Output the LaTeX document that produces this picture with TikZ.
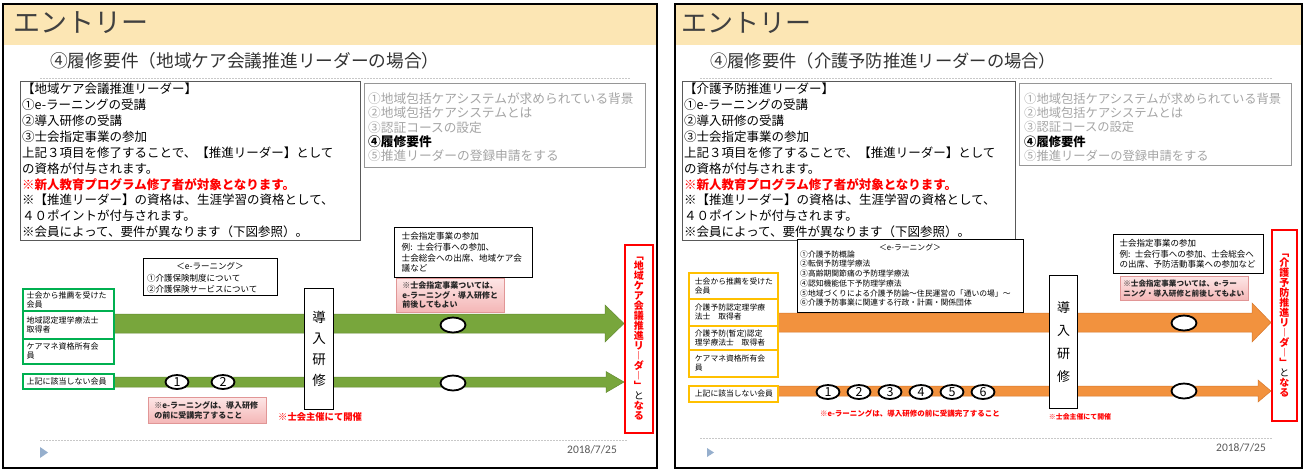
\documentclass[tikz,border=0pt]{standalone}
\usepackage{fontspec}
\setmainfont{Noto Sans CJK JP}
\newfontfamily\datefont{Carlito}
\usetikzlibrary{shapes.geometric,calc}
\definecolor{hdr}{RGB}{252,230,180}
\definecolor{ttl}{RGB}{64,64,64}
\definecolor{grtx}{RGB}{165,165,165}
\definecolor{grbd}{RGB}{150,150,150}
\definecolor{barG}{RGB}{120,166,60}
\definecolor{barGd}{RGB}{100,140,50}
\definecolor{barO}{RGB}{242,146,62}
\definecolor{barOd}{RGB}{215,120,45}
\definecolor{cellG}{RGB}{0,176,80}
\definecolor{cellY}{RGB}{255,192,0}
\definecolor{pkT}{RGB}{253,230,230}
\definecolor{pkB}{RGB}{244,182,182}
\definecolor{pkD}{RGB}{225,150,150}
\definecolor{redT}{RGB}{255,0,0}
\definecolor{dateC}{RGB}{90,90,90}
\definecolor{triC}{RGB}{150,175,205}
\definecolor{dotC}{RGB}{200,200,200}
\newcommand\fsz[2]{\fontsize{#1}{#2}\selectfont\lineskiplimit=-100pt\lineskip=0pt\relax}
\newcommand\blockarrow[6]{%
  \filldraw[#1] let \p1=(#2), \p2=(#3) in
    (\x1,\y1+#4) -- (\x2-#6,\y1+#4) -- (\x2-#6,\y1+#5) -- (\x2,\y1)
    -- (\x2-#6,\y1-#5) -- (\x2-#6,\y1-#4) -- (\x1,\y1-#4) -- cycle;}
\begin{document}
\begin{tikzpicture}[x=1pt,y=-1pt,
  frm/.style={draw=black,line width=1.6pt},
  bk/.style={draw=black,line width=1.3pt,fill=white,inner sep=0pt,anchor=north west},
  tb/.style={draw=black!65,line width=0.9pt,fill=white,inner sep=0pt,anchor=north west},
  gb/.style={draw=grbd,line width=1pt,fill=white,inner sep=0pt,anchor=north west},
  tx/.style={inner sep=0pt,anchor=west,align=left},
  gcell/.style={draw=cellG,line width=1.5pt,fill=white,anchor=north west,align=left,inner xsep=4pt,inner ysep=0pt,font=\fsz{8}{9}},
  ycell/.style={draw=cellY,line width=1.8pt,fill=white,anchor=north west,align=left,inner xsep=6pt,inner ysep=0pt,font=\fsz{7.8}{9}},
  pk/.style={draw=pkD,line width=0.6pt,top color=pkT,bottom color=pkB,anchor=north west,align=left,inner xsep=6pt,inner ysep=0pt,text=black!85},
  rbox/.style={draw=redT,line width=1.6pt,fill=white,anchor=north west,inner sep=0pt,align=center,text=redT},
  ov/.style={ellipse,draw=black,line width=1.8pt,fill=white,inner sep=0pt},
  dotln/.style={draw=dotC,line width=0.8pt,dash pattern=on 1.5pt off 1.5pt},
]
\useasboundingbox (0,0) rectangle (1306,472);
\fill[white] (0,0) rectangle (1306,472);

%================ LEFT SLIDE =================
\fill[hdr] (3,4) rectangle (657,45);
\node[tx,font=\fsz{27}{30},text=ttl] (tL) at (13,23) {エントリー};
\node[tx,font=\fsz{17.7}{20},text=black!80] (sL) at (50,61) {④履修要件（地域ケア会議推進リーダーの場合）};
\draw[dotln] (40,78) -- (630,78);

\node[tb,minimum width=340pt,minimum height=159pt] (bL) at (20,81) {};
\node[tx,font=\fsz{12.5}{15.9}] (bLt) at (22,160.5) {【地域ケア会議推進リーダー】\\①e-ラーニングの受講\\②導入研修の受講\\③士会指定事業の参加\\上記３項目を修了することで、【推進リーダー】として\\の資格が付与されます。\\{\color{redT}\bfseries ※新人教育プログラム修了者が対象となります。}\\※【推進リーダー】の資格は、生涯学習の資格として、\\４０ポイントが付与されます。\\※会員によって、要件が異なります（下図参照）。};

\node[gb,minimum width=281pt,minimum height=84pt] (gL) at (364,83) {};
\node[tx,font=\fsz{12.7}{14.25},text=grtx] (gLt) at (368,127.4) {①地域包括ケアシステムが求められている背景\\②地域包括ケアシステムとは\\③認証コースの設定\\{\color{black}\bfseries ④履修要件}\\⑤推進リーダーの登録申請をする};

\node[rbox,minimum width=28pt,minimum height=188pt,font=\fsz{10}{10}\bfseries] (rL) at (624,244) {﹁\\地\\域\\ケ\\ア\\会\\議\\推\\進\\リ\\︱\\ダ\\︱\\﹂\\\color{black}\mdseries と\\な\\る};

\coordinate (uL) at (113,323.5);
\coordinate (lL) at (113,382);
\blockarrow{fill=barG,draw=barGd,line width=0.5pt}{uL}{rL.west}{9.5pt}{18.5pt}{19pt}
\blockarrow{fill=barG,draw=barGd,line width=0.5pt}{lL}{rL.west}{5pt}{10.5pt}{18pt}

\node[gcell,text width=83pt,minimum height=22pt] (g1) at (22,288) {士会から推薦を受けた\\会員};
\node[gcell,text width=83pt,minimum height=28pt] (g2) at (22,310) {地域認定理学療法士\\取得者};
\node[gcell,text width=83pt,minimum height=25pt] (g3) at (22,338) {ケアマネ資格所有会\\員};
\node[gcell,text width=83pt,minimum height=15pt] (g4) at (22,373) {上記に該当しない会員};

\node[bk,minimum width=134pt,minimum height=37pt] (eL) at (143,258) {};
\node[inner sep=0pt,font=\fsz{8.5}{10}] (eLh) at (210,266) {＜e-ラーニング＞};
\node[tx,font=\fsz{8.5}{10.5}] (eLt) at (147,284) {①介護保険制度について\\②介護保険サービスについて};

\node[bk,minimum width=29pt,minimum height=121pt,align=center,font=\fsz{13.5}{21}] (dL) at (304,288) {導\\入\\研\\修};

\node[ov,minimum width=23pt,minimum height=14pt,font=\fsz{12.5}{12}] (c1L) at (177,382) {1};
\node[ov,minimum width=23pt,minimum height=14pt,font=\fsz{12.5}{12}] (c2L) at (223,382) {2};
\node[ov,minimum width=25pt,minimum height=15pt] (oLu) at (453,325) {};
\node[ov,minimum width=25pt,minimum height=15pt] (oLl) at (453,383) {};

\node[pk,text width=106pt,minimum height=26pt,font=\fsz{8}{10}\bfseries] (p1L) at (148,397) {※e-ラーニングは、導入研修\\の前に受講完了すること};
\node[tx,font=\fsz{9.3}{10}\bfseries,text=redT] (nL) at (278,417) {※士会主催にて開催};

\node[bk,text width=124pt,minimum height=50pt,align=left,inner xsep=7pt,inner ysep=0pt,font=\fsz{8.6}{10.7}] (sjL) at (394,227) {士会指定事業の参加\\例: 士会行事への参加、\\士会総会への出席、地域ケア会\\議など};
\node[pk,text width=96pt,minimum height=34pt,font=\fsz{8}{9.6}\bfseries] (p2L) at (396,278) {※士会指定事業ついては、\\e-ラーニング・導入研修と\\前後してもよい};

\draw[dotln] (40,440) -- (628,440);
\fill[triC] (40,447) -- (48,452.5) -- (40,458) -- cycle;
\node[tx,font=\datefont\fontsize{11.5}{12}\selectfont,text=dateC] (dtL) at (567,450) {2018/7/25};
\draw[frm] (3,4) rectangle (657,468);

%================ RIGHT SLIDE =================
\fill[hdr] (675,4) rectangle (1302,45);
\node[tx,font=\fsz{26}{30},text=ttl] (tR) at (681,23) {エントリー};
\node[tx,font=\fsz{17.3}{20},text=black!80] (sR) at (710,61) {④履修要件（介護予防推進リーダーの場合）};
\draw[dotln] (700,78) -- (1272,78);

\node[tb,minimum width=333pt,minimum height=159pt] (bR) at (682,81) {};
\node[tx,font=\fsz{12.5}{15.9}] (bRt) at (684,160.5) {【介護予防推進リーダー】\\①e-ラーニングの受講\\②導入研修の受講\\③士会指定事業の参加\\上記３項目を修了することで、【推進リーダー】として\\の資格が付与されます。\\{\color{redT}\bfseries ※新人教育プログラム修了者が対象となります。}\\※【推進リーダー】の資格は、生涯学習の資格として、\\４０ポイントが付与されます。\\※会員によって、要件が異なります（下図参照）。};

\node[gb,minimum width=272pt,minimum height=82pt] (gR) at (1019,83) {};
\node[tx,font=\fsz{12.3}{14.25},text=grtx] (gRt) at (1024,127.2) {①地域包括ケアシステムが求められている背景\\②地域包括ケアシステムとは\\③認証コースの設定\\{\color{black}\bfseries ④履修要件}\\⑤推進リーダーの登録申請をする};

\node[rbox,minimum width=25pt,minimum height=191pt,font=\fsz{10}{10}\bfseries] (rR) at (1271,229) {﹁\\介\\護\\予\\防\\推\\進\\リ\\︱\\ダ\\︱\\﹂\\\color{black}\mdseries と\\な\\る};

\coordinate (uR) at (777,322.5);
\coordinate (lR) at (777,391);
\blockarrow{fill=barO,draw=barOd,line width=0.5pt}{uR}{rR.west}{9.5pt}{19.5pt}{19pt}
\blockarrow{fill=barO,draw=barOd,line width=0.5pt}{lR}{rR.west}{5pt}{11pt}{13pt}

\node[ycell,text width=77pt,minimum height=26pt] (y1) at (688,272) {士会から推薦を受けた\\会員};
\node[ycell,text width=77pt,minimum height=27pt] (y2) at (688,298) {介護予防認定理学療\\法士　取得者};
\node[ycell,text width=77pt,minimum height=24pt] (y3) at (688,325) {介護予防(暫定)認定\\理学療法士　取得者};
\node[ycell,text width=77pt,minimum height=27pt] (y4) at (688,349) {ケアマネ資格所有会\\員};
\node[ycell,text width=77pt,minimum height=16pt] (y5) at (688,385) {上記に該当しない会員};

\node[bk,minimum width=226pt,minimum height=73pt] (eR) at (797,239) {};
\node[inner sep=0pt,font=\fsz{7.8}{9}] (eRh) at (910,247) {＜e-ラーニング＞};
\node[tx,font=\fsz{7.8}{9.7}] (eRt) at (800,278.5) {①介護予防概論\\②転倒予防理学療法\\③高齢期関節痛の予防理学療法\\④認知機能低下予防理学療法\\⑤地域づくりによる介護予防論〜住民運営の「通いの場」〜\\⑥介護予防事業に関連する行政・計画・関係団体};

\node[bk,minimum width=28pt,minimum height=133pt,align=center,font=\fsz{13}{23}] (dR) at (1049,275) {導\\入\\研\\修};

\node[ov,minimum width=23pt,minimum height=14pt,font=\fsz{12.5}{12}] (c1R) at (828,392) {1};
\node[ov,minimum width=23pt,minimum height=14pt,font=\fsz{12.5}{12}] (c2R) at (859,392) {2};
\node[ov,minimum width=23pt,minimum height=14pt,font=\fsz{12.5}{12}] (c3R) at (890,392) {3};
\node[ov,minimum width=23pt,minimum height=14pt,font=\fsz{12.5}{12}] (c4R) at (921,392) {4};
\node[ov,minimum width=23pt,minimum height=14pt,font=\fsz{12.5}{12}] (c5R) at (952,392) {5};
\node[ov,minimum width=23pt,minimum height=14pt,font=\fsz{12.5}{12}] (c6R) at (983,392) {6};
\node[ov,minimum width=25pt,minimum height=15pt] (oRu) at (1184,323) {};
\node[ov,minimum width=25pt,minimum height=15pt] (oRl) at (1184,391) {};

\node[inner sep=0pt,font=\fsz{7.5}{8}\bfseries,text=redT] (n1R) at (910,414) {※e-ラーニングは、導入研修の前に受講完了すること};
\node[inner sep=0pt,font=\fsz{6.9}{8}\bfseries,text=redT] (n2R) at (1080,417) {※士会主催にて開催};

\node[bk,text width=138pt,minimum height=39pt,align=left,inner xsep=6pt,inner ysep=0pt,font=\fsz{8.5}{10.5}] (sjR) at (1113,234) {士会指定事業の参加\\例: 士会行事への参加、士会総会へ\\の出席、予防活動事業への参加など};
\node[pk,text width=122pt,minimum height=24pt,inner xsep=3pt,font=\fsz{7.6}{10}\bfseries] (pR) at (1120,276) {※士会指定事業ついては、e-ラー\\ニング・導入研修と前後してもよい};

\draw[dotln] (700,438) -- (1272,438);
\fill[triC] (707,448) -- (714,452.5) -- (707,457) -- cycle;
\node[tx,font=\datefont\fontsize{11.5}{12}\selectfont,text=dateC] (dtR) at (1216,448) {2018/7/25};
\draw[frm] (675,4) rectangle (1302,468);
\end{tikzpicture}
\end{document}
